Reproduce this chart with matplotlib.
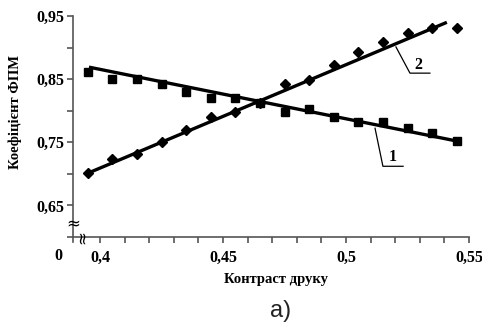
import numpy as np
from matplotlib import pyplot as plt

# contrast values (x) and FPM coefficient for the two series
contrast = [0.395, 0.405, 0.415, 0.425, 0.435, 0.445, 0.455, 0.465,
            0.475, 0.485, 0.495, 0.505, 0.515, 0.525, 0.535, 0.545]
series1 = [0.861, 0.850, 0.850, 0.842, 0.830, 0.820, 0.820, 0.812,
           0.798, 0.802, 0.790, 0.782, 0.782, 0.772, 0.764, 0.752]
series2 = [0.701, 0.723, 0.731, 0.750, 0.769, 0.790, 0.798, 0.812,
           0.842, 0.848, 0.872, 0.893, 0.909, 0.923, 0.931, 0.931]

# trend lines (start / end)
trend1_x = [0.3955, 0.545]
trend1_y = [0.869, 0.752]
trend2_x = [0.395, 0.541]
trend2_y = [0.701, 0.940]

xticks = [0.40, 0.45, 0.50, 0.55]
xtick_labels = ['0,4', '0,45', '0,5', '0,55']
yticks = [0.65, 0.75, 0.85, 0.95]
ytick_labels = ['0,65', '0,75', '0,85', '0,95']

serif = ['Liberation Serif', 'DejaVu Serif']
axis_color = '#555555'

figure = plt.figure(figsize = (4.82, 3.24), dpi = 100)
ax = figure.add_axes([73 / 482, 1 - 237 / 324, (469 - 73) / 482, (237 - 16) / 324])

ax.plot(trend1_x, trend1_y, color = 'k', lw = 2.4, solid_capstyle = 'butt')
ax.plot(trend2_x, trend2_y, color = 'k', lw = 2.4, solid_capstyle = 'butt')
ax.plot(contrast, series1, 's', color = 'k', markersize = 6.2, clip_on = False)
ax.plot(contrast, series2, 'D', color = 'k', markersize = 5.2, clip_on = False)

ax.set_xlim(0.389, 0.55)
ax.set_ylim(0.60, 0.95)

for side in ['top', 'right']:
    ax.spines[side].set_visible(False)
for side in ['left', 'bottom']:
    ax.spines[side].set_color(axis_color)
    ax.spines[side].set_linewidth(1.2)

ax.set_xticks(xticks)
ax.set_xticklabels(xtick_labels)
ax.set_xticks(np.arange(0.40, 0.551, 0.01), minor = True)
ax.set_yticks(yticks)
ax.set_yticklabels(ytick_labels)
ax.set_yticks([0.60, 0.70, 0.80, 0.90], minor = True)

ax.tick_params(which = 'both', direction = 'out', length = 4.5, width = 1.2, color = axis_color)
ax.tick_params(axis = 'x', pad = 5)
ax.tick_params(axis = 'y', pad = 1.5)
for label in ax.get_xticklabels() + ax.get_yticklabels():
    label.set_family(serif)
    label.set_fontweight('bold')
    label.set_fontsize(11.5)

ax.set_xlabel('Контраст друку', family = serif, fontweight = 'bold', fontsize = 10.5)
ax.set_ylabel('Коефіцієнт ФПМ', family = serif, fontweight = 'bold', fontsize = 10.5)
ax.xaxis.set_label_coords((276 - 73) / (469 - 73), -(279 - 237) / (237 - 16))
ax.xaxis.label.set_va('center')
ax.yaxis.set_label_coords(-(73 - 15) / (469 - 73), (237 - 112) / (237 - 16))
ax.yaxis.label.set_va('center')

# origin label and axis breaks
ax.text(0.383, 0.5825, '0', family = serif, fontweight = 'bold', fontsize = 11.5,
        ha = 'center', va = 'top')
ax.text(0.389, 0.622, '≈', fontsize = 12, ha = 'center', va = 'center',
        color = 'k', clip_on = False)
ax.text(0.3927, 0.600, '≈', fontsize = 12, ha = 'center', va = 'center',
        rotation = 90, color = 'k', clip_on = False)
ax.plot([0.389, 0.389], [0.600, 0.592], color = axis_color, lw = 1.2, clip_on = False)

# curve labels with leader lines
ax.plot([0.5203, 0.526, 0.5341], [0.901, 0.8595, 0.8595], color = 'k', lw = 0.9, clip_on = False)
ax.text(0.5293, 0.8605, '2', family = serif, fontweight = 'bold', fontsize = 11.5,
        ha = 'center', va = 'bottom')
ax.plot([0.5118, 0.515, 0.5232], [0.7722, 0.712, 0.712], color = 'k', lw = 0.9, clip_on = False)
ax.text(0.519, 0.7135, '1', family = serif, fontweight = 'bold', fontsize = 11.5,
        ha = 'center', va = 'bottom')

figure.text(281 / 482, 1 - 311 / 324, 'a)', family = ['Liberation Sans', 'DejaVu Sans'],
            fontsize = 17, ha = 'center', va = 'center', color = '#222222')

plt.savefig('out.png', dpi = 100)
